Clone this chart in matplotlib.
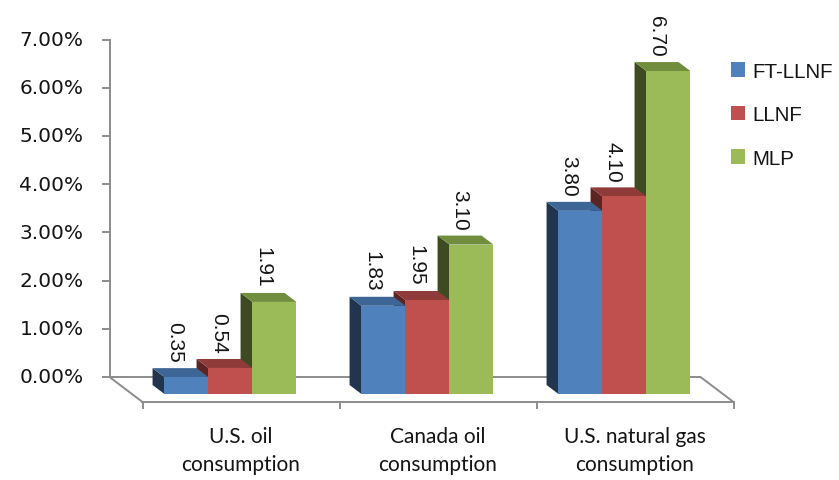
import matplotlib
matplotlib.use("Agg")
import matplotlib.pyplot as plt
from matplotlib.patches import Polygon, Patch

# ---- data -------------------------------------------------------------
categories = ["U.S. oil\nconsumption", "Canada oil\nconsumption", "U.S. natural gas\nconsumption"]
series_names = ["FT-LLNF", "LLNF", "MLP"]
ft_llnf = [0.35, 1.83, 3.80]
llnf = [0.54, 1.95, 4.10]
mlp = [1.91, 3.10, 6.70]
y_ticks = [0, 1, 2, 3, 4, 5, 6, 7]
y_tick_labels = ["0.00%", "1.00%", "2.00%", "3.00%", "4.00%", "5.00%", "6.00%", "7.00%"]

series = [ft_llnf, llnf, mlp]

# ---- styling ------------------------------------------------------------
front_colors = ["#4F81BD", "#C0504D", "#9BBB59"]
top_colors = ["#3D6697", "#8E3B39", "#718E3F"]
side_colors = ["#22354F", "#5C2523", "#3E4B22"]
axis_color = "#8C8C8C"
text_color = "#141414"

W, H, DPI = 839, 481, 100
fig = plt.figure(figsize=(W / DPI, H / DPI), dpi=DPI)
ax = fig.add_axes([0, 0, 1, 1])
ax.axis("off")

# pixel scale of the plotting space: one category = 197 px, one percent = 48.2 px
px_x, px_y = 197.0, 48.2
x0_px, y0_px = 241.0, 403.0
ax.set_xlim(-x0_px / px_x, (W - x0_px) / px_x)
ax.set_ylim((y0_px - H) / px_y, y0_px / px_y)

# oblique depth vector (front of floor z=0, back wall z=1)
VX, VY = -33 / px_x, 25 / px_y


def proj(x, v, z):
    return (x + z * VX, v + z * VY)


# ---- floor & wall axis --------------------------------------------------
n = len(categories)
xl, xr = -0.5, n - 0.5
floor = [proj(xl, 0, 0), proj(xr, 0, 0), proj(xr, 0, 1), proj(xl, 0, 1), proj(xl, 0, 0)]
ax.plot([p[0] for p in floor], [p[1] for p in floor], color=axis_color, lw=1.4, zorder=1,
        solid_joinstyle="miter")

# vertical value axis on the back wall
top_v = y_ticks[-1]
wx, wy0 = proj(xl, 0, 1)
ax.plot([wx, wx], [wy0, wy0 + top_v], color=axis_color, lw=1.4, zorder=1)
tick_len = 7 / px_x
for t, lab in zip(y_ticks, y_tick_labels):
    ax.plot([wx - tick_len, wx], [wy0 + t, wy0 + t], color=axis_color, lw=1.4, zorder=1)
    ax.text(wx - 26 / px_x, wy0 + t, lab, ha="right", va="center",
            fontsize=14.5, family="DejaVu Sans", color=text_color)

# category ticks and labels along the front edge of the floor
for k in range(n + 1):
    xx = xl + k
    ax.plot([xx, xx], [0, -6 / px_y], color=axis_color, lw=1.4, zorder=1)
for i, cat in enumerate(categories):
    ax.text(i, -24 / px_y, cat, ha="center", va="top", fontsize=15, family="Lato",
            color=text_color, linespacing=1.5)

# ---- 3-D bars ---------------------------------------------------------------
bw = 44 / px_x
z_front, z_back = 0.32, 0.68
zo = 10
for i in reversed(range(n)):
    for j in reversed(range(len(series))):
        v = series[j][i]
        left = i - 1.5 * bw + j * bw
        right = left + bw
        front = [proj(left, 0, z_front), proj(right, 0, z_front),
                 proj(right, v, z_front), proj(left, v, z_front)]
        top = [proj(left, v, z_front), proj(right, v, z_front),
               proj(right, v, z_back), proj(left, v, z_back)]
        side = [proj(left, 0, z_front), proj(left, v, z_front),
                proj(left, v, z_back), proj(left, 0, z_back)]
        ax.add_patch(Polygon(side, closed=True, facecolor=side_colors[j], edgecolor="none", zorder=zo))
        ax.add_patch(Polygon(top, closed=True, facecolor=top_colors[j], edgecolor="none", zorder=zo))
        ax.add_patch(Polygon(front, closed=True, facecolor=front_colors[j], edgecolor="none", zorder=zo))
        zo += 1
        lx, ly = proj((left + right) / 2, v, z_back)
        ax.text(lx, ly + 6 / px_y, f"{v:.2f}", rotation=-90, ha="center", va="bottom",
                fontsize=15, family="Liberation Sans", color=text_color, zorder=50)

# ---- legend -------------------------------------------------------------------
handles = [Patch(facecolor=c, edgecolor="none") for c in front_colors]
leg = ax.legend(handles, series_names, loc="upper left", bbox_to_anchor=(712 / W, 1 - 44 / H),
                bbox_transform=fig.transFigure, frameon=False, handlelength=0.7,
                handleheight=0.7, handletextpad=0.35, labelspacing=1.2,
                prop={"family": "Liberation Sans", "size": 14.8})
for txt in leg.get_texts():
    txt.set_color(text_color)

fig.savefig("out.png", dpi=DPI)
